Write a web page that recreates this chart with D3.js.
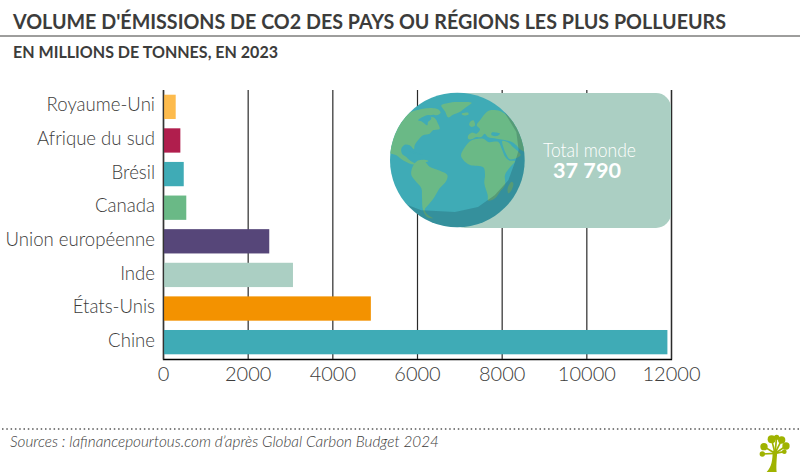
<!DOCTYPE html>
<html lang="fr">
<head>
<meta charset="utf-8">
<script src="https://d3js.org/d3.v7.min.js"></script>
<style>
  html, body { margin: 0; padding: 0; background: #fff; }
  svg { display: block; }
  text { font-family: Lato, "Noto Sans", sans-serif; fill: #3c3c3b; }
</style>
</head>
<body>
<div id="chart"></div>
<script>
//Data, top bar first
var categories = ["Royaume-Uni", "Afrique du sud", "Brésil", "Canada", "Union européenne", "Inde", "États-Unis", "Chine"];
var values = [300, 410, 490, 550, 2510, 3070, 4910, 11915];
var barColors = ["#fdbb4d", "#b01e4d", "#3fabb6", "#6ab986", "#564679", "#abcfc3", "#f39200", "#3fabb6"];
var xTicks = [0, 2000, 4000, 6000, 8000, 10000, 12000];

//Globe outlines, traced in 3x zooms (origin 388,92)
var land = [
  [[-5,180],[5,150],[30,100],[60,65],[85,55],[105,50],[130,48],[150,52],[158,62],[145,70],[135,68],[122,72],[140,78],[150,95],[155,110],[135,115],[125,125],[105,130],[90,145],[80,160],[78,172],[65,160],[50,158],[40,170],[42,185],[55,195],[65,205],[85,218],[68,216],[45,205],[25,190],[10,185]],
  [[160,40],[185,32],[215,30],[251,32],[235,45],[215,60],[195,68],[180,76],[172,60]],
  [[221,65],[241,62],[241,68],[226,70]],
  [[72,229],[85,209],[105,204],[125,224],[150,234],[178,249],[175,266],[155,289],[140,314],[125,334],[110,354],[120,369],[135,379],[118,376],[105,354],[102,314],[100,289],[80,264],[70,249]],
  [[219,190],[231,165],[251,145],[286,140],[301,150],[331,150],[341,170],[352,195],[365,206],[381,207],[366,226],[351,249],[351,279],[336,299],[321,319],[301,326],[299,309],[289,274],[291,249],[286,226],[246,219],[226,204]],
  [[343,147],[362,152],[375,165],[392,180],[398,190],[366,202],[354,185],[347,168]],
  [[241,130],[251,122],[266,125],[276,112],[266,100],[276,85],[291,65],[306,55],[326,55],[346,62],[373,85],[420,150],[415,180],[396,172],[385,160],[372,150],[345,143],[325,140],[300,135],[290,125],[280,135],[265,135],[250,142],[240,140]],
  [[246,90],[256,85],[261,100],[251,105],[244,100]],
  [[359,289],[371,269],[376,274],[371,294],[361,304]],
  [[100,205],[110,203],[122,207],[110,210]]
];
var seas = [
  [[90,85],[110,72],[125,70],[130,80],[120,90],[118,100],[100,88]],
  [[65,178],[85,182],[105,188],[85,186]],
  [[311,122],[336,125],[326,132],[311,130]]
];
//Edge of the lit part of the globe
var litArea = [[-10,300],[45,334],[100,355],[201,360],[270,345],[320,310],[361,265],[381,210],[392,175],[385,120],[351,64],[330,-20],[-10,-20]];

var width = 800, height = 472;
var margin = {top: 90, right: 129, bottom: 113, left: 163};

var svg = d3.select("#chart").append("svg")
  .attr("width", width)
  .attr("height", height);

//Title
svg.append("text")
  .attr("x", 13).attr("y", 29)
  .attr("textLength", 713).attr("lengthAdjust", "spacingAndGlyphs")
  .style("font-size", "21px").style("font-weight", 700)
  .text("VOLUME D'ÉMISSIONS DE CO2 DES PAYS OU RÉGIONS LES PLUS POLLUEURS");
svg.append("line")
  .attr("x1", 0).attr("x2", width).attr("y1", 36).attr("y2", 36)
  .attr("stroke", "#3c3c3b").attr("stroke-width", 1);
svg.append("text")
  .attr("x", 13).attr("y", 58)
  .attr("textLength", 265).attr("lengthAdjust", "spacingAndGlyphs")
  .style("font-size", "17.5px").style("font-weight", 700)
  .text("EN MILLIONS DE TONNES, EN 2023");

//Scales
var x = d3.scaleLinear()
  .domain([0, 12000])
  .range([margin.left, width - margin.right]);
var y = d3.scaleBand()
  .domain(categories)
  .range([margin.top, height - margin.bottom])
  .paddingInner(0.277)
  .paddingOuter(0.14);

//Grid lines come from the x axis ticks
var xAxis = svg.append("g")
  .attr("transform", "translate(0," + (height - margin.bottom) + ")")
  .call(d3.axisBottom(x).tickValues(xTicks).tickFormat(d3.format("d"))
    .tickSize(-(height - margin.top - margin.bottom)).tickPadding(8));
xAxis.select(".domain").attr("stroke", "#000").attr("stroke-width", 1.3);
xAxis.selectAll(".tick line").attr("stroke", "#2a2a2a").attr("stroke-width", 1.2);
xAxis.selectAll("text")
  .style("font-size", "20px").style("font-weight", 300)
  .style("font-family", "Lato").attr("fill", "#3c3c3b");

//Bars
svg.selectAll(".bar")
  .data(categories)
  .enter()
  .append("rect")
    .attr("class", "bar")
    .attr("x", x(0))
    .attr("y", function(d) { return y(d); })
    .attr("width", function(d, i) { return x(values[i]) - x(0); })
    .attr("height", y.bandwidth())
    .attr("fill", function(d, i) { return barColors[i]; });

//Category labels, squeezed a bit because Lato runs wider than the original face
var yAxis = svg.append("g")
  .attr("transform", "translate(" + margin.left + ",0)")
  .call(d3.axisLeft(y).tickSize(0).tickPadding(8));
yAxis.select(".domain").attr("stroke", "#333").attr("stroke-width", 1.2);
yAxis.selectAll("text")
  .style("font-size", "20px").style("font-weight", 300)
  .style("font-family", "Lato").attr("fill", "#3c3c3b")
  .attr("dy", "0.23em")
  .each(function() {
    d3.select(this)
      .attr("textLength", this.getComputedTextLength() * 0.93)
      .attr("lengthAdjust", "spacingAndGlyphs");
  });

//Total panel
svg.append("rect")
  .attr("x", 450).attr("y", 93)
  .attr("width", 221).attr("height", 135)
  .attr("rx", 15)
  .attr("fill", "#abcfc3");
svg.append("text")
  .attr("x", 543).attr("y", 156.5)
  .attr("textLength", 93).attr("lengthAdjust", "spacingAndGlyphs")
  .style("fill", "#fff").style("font-size", "19px").style("font-weight", 300)
  .text("Total monde");
svg.append("text")
  .attr("x", 553).attr("y", 177.5)
  .attr("textLength", 68).attr("lengthAdjust", "spacingAndGlyphs")
  .style("fill", "#fff").style("font-size", "20px").style("font-weight", 700)
  .text("37 790");

//Globe
var globe = svg.append("g").attr("transform", "translate(388,92) scale(0.3333)");
var blob = d3.line().curve(d3.curveCatmullRomClosed.alpha(0.5));
globe.append("clipPath").attr("id", "globe-clip")
  .append("circle").attr("cx", 208).attr("cy", 204).attr("r", 202);
globe.append("circle")
  .attr("cx", 208).attr("cy", 204).attr("r", 202)
  .attr("fill", "#3fabb6");
var inside = globe.append("g").attr("clip-path", "url(#globe-clip)");
inside.selectAll(".land")
  .data(land)
  .enter()
  .append("path")
    .attr("class", "land")
    .attr("d", blob)
    .attr("fill", "#6ab986");
inside.selectAll(".sea")
  .data(seas)
  .enter()
  .append("path")
    .attr("class", "sea")
    .attr("d", blob)
    .attr("fill", "#3fabb6");
inside.append("path")
  .attr("d", "M-50,-50H500V500H-50Z" + d3.line().curve(d3.curveLinearClosed)(litArea))
  .attr("fill-rule", "evenodd")
  .attr("fill", "#12323f")
  .attr("fill-opacity", 0.22);

//Footer
svg.append("line")
  .attr("x1", 2).attr("x2", width).attr("y1", 429).attr("y2", 429)
  .attr("stroke", "#555").attr("stroke-width", 1.5)
  .attr("stroke-dasharray", "1.5 2.8");
svg.append("text")
  .attr("x", 10).attr("y", 446.5)
  .attr("textLength", 429).attr("lengthAdjust", "spacingAndGlyphs")
  .style("font-size", "15px").style("font-style", "italic").style("font-weight", 300)
  .text("Sources : lafinancepourtous.com d’après Global Carbon Budget 2024");

//Tree logo, from a 3x zoom (origin 600,320)
var tree = svg.append("g").attr("transform", "translate(600,320) scale(0.3333)").attr("fill", "#9fb300").attr("stroke", "#9fb300");
var leaves = [[515,358,12],[492,380,11],[545,360,11],[558,378,11],[487,402,8],[553,395,7],[530,352,8]];
tree.selectAll("circle").data(leaves).enter().append("circle")
  .attr("cx", function(d) { return d[0]; })
  .attr("cy", function(d) { return d[1]; })
  .attr("r", function(d) { return d[2]; })
  .attr("stroke", "none");
tree.selectAll("line").data(leaves).enter().append("line")
  .attr("x1", 525).attr("y1", 400)
  .attr("x2", function(d) { return d[0]; })
  .attr("y2", function(d) { return d[1]; })
  .attr("stroke-width", 5);
tree.append("path")
  .attr("stroke", "none")
  .attr("d", "M500,456 C515,440 518,420 518,392 L532,392 C530,420 528,440 530,456 Z");
</script>
</body>
</html>
